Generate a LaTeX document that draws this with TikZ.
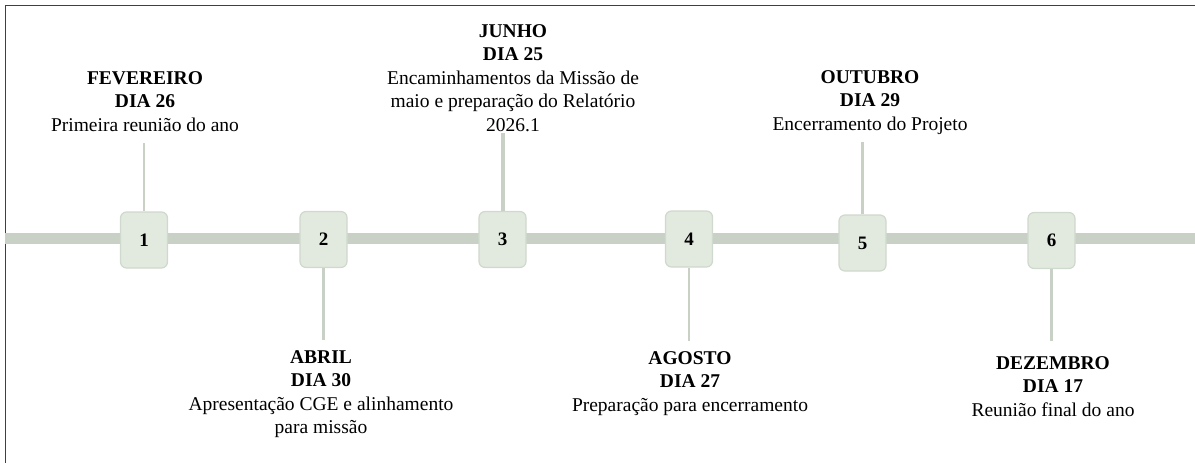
\documentclass[tikz,border=0pt]{standalone}
\usepackage{fontspec}
\setmainfont{Liberation Serif}
\usepackage{tikz}
\usetikzlibrary{arrows,positioning}

\definecolor{barcol}{HTML}{C9D1C7}
\definecolor{boxfill}{HTML}{E2E9DF}
\definecolor{boxline}{HTML}{D0D9CD}

\begin{document}
\begin{tikzpicture}[x=1pt,y=-1pt,line cap=butt,
                    font=\fontsize{19.5}{23.5}\selectfont]
  \tikzstyle{marker}=[rectangle,rounded corners=6pt,minimum width=47pt,
                      minimum height=56pt,fill=boxfill,draw=boxline,
                      line width=1.2pt,font=\fontsize{19}{22}\selectfont\bfseries]
  \tikzstyle{info}=[align=center,inner sep=0pt,anchor=north]
  \tikzstyle{link}=[draw=barcol,line width=2.5pt]

  \useasboundingbox (0,0) rectangle (1195,463);

  % frame
  \draw[black!75,line width=1.3pt] (5.5,463) -- (5.5,5.5) -- (1195,5.5);

  % timeline
  \coordinate (L) at (5,238.5);
  \coordinate (R) at (1195,238.5);
  \draw[barcol,line width=11pt] (L) -- (R);

  \node[marker] (M1) at (144,240) {1};
  \node[marker] (M2) at (323.5,239.5) {2};
  \node[marker] (M3) at (502.5,239.5) {3};
  \node[marker] (M4) at (689,239) {4};
  \node[marker] (M5) at (862.5,243) {5};
  \node[marker] (M6) at (1051.5,240.5) {6};

  \coordinate (C1) at (144,143);
  \coordinate (C2) at (323.5,340);
  \coordinate (C3) at (502.5,133);
  \coordinate (C4) at (689,341);
  \coordinate (C5) at (862.5,142);
  \coordinate (C6) at (1051.5,341);

  \path (M1) edge[link] (C1)
        (M2) edge[link] (C2)
        (M3) edge[link,line width=4pt] (C3)
        (M4) edge[link] (C4)
        (M5) edge[link,line width=3pt] (C5)
        (M6) edge[link] (C6);

  \node[info] (T1) at (145,71) {\textbf{FEVEREIRO}\\\textbf{DIA 26}\\Primeira reunião do ano};
  \node[info] (T2) at (321,350) {\textbf{ABRIL}\\\textbf{DIA 30}\\Apresentação CGE e alinhamento\\para missão};
  \node[info] (T3) at (513,24) {\textbf{JUNHO}\\\textbf{DIA 25}\\Encaminhamentos da Missão de\\maio e preparação do Relatório\\2026.1};
  \node[info] (T4) at (690,351) {\textbf{AGOSTO}\\\textbf{DIA 27}\\Preparação para encerramento};
  \node[info] (T5) at (870,70) {\textbf{OUTUBRO}\\\textbf{DIA 29}\\Encerramento do Projeto};
  \node[info] (T6) at (1053,356) {\textbf{DEZEMBRO}\\\textbf{DIA 17}\\Reunião final do ano};
\end{tikzpicture}
\end{document}
